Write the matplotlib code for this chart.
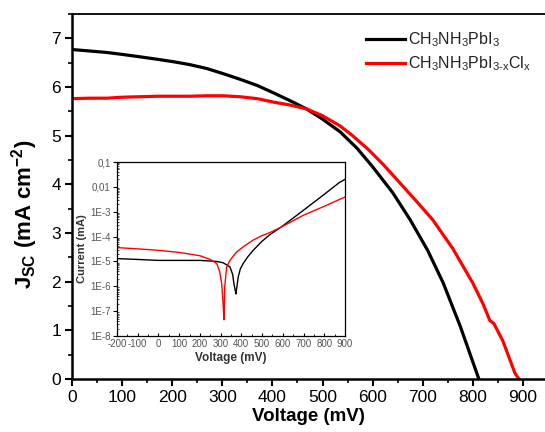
import matplotlib
matplotlib.use("Agg")
import matplotlib.pyplot as plt
from matplotlib.ticker import MultipleLocator, FixedLocator, LogLocator, NullFormatter

plt.rcParams['font.family'] = ['Liberation Sans', 'DejaVu Sans']
plt.rcParams['mathtext.fontset'] = 'custom'
plt.rcParams['mathtext.rm'] = 'Liberation Sans'
plt.rcParams['mathtext.bf'] = 'Liberation Sans:bold'
plt.rcParams['mathtext.it'] = 'Liberation Sans'
plt.rcParams['axes.unicode_minus'] = False

# Main J-V data
v_black = [0, 35, 69, 100, 136, 170, 202, 235, 269, 300, 335, 370, 402, 435, 468, 500,
           535, 569, 600, 640, 675, 710, 741, 775, 812]
j_black = [6.77, 6.74, 6.71, 6.67, 6.62, 6.57, 6.52, 6.46, 6.38, 6.28, 6.16, 6.03, 5.88,
           5.72, 5.55, 5.34, 5.08, 4.74, 4.36, 3.83, 3.27, 2.64, 1.97, 1.08, 0.0]
v_red = [0, 35, 69, 100, 136, 170, 202, 235, 269, 300, 335, 370, 402, 435, 468, 500,
         535, 560, 591, 620, 650, 685, 720, 760, 800, 820, 834, 842, 860, 884, 892]
j_red = [5.76, 5.77, 5.77, 5.79, 5.80, 5.81, 5.81, 5.81, 5.82, 5.82, 5.80, 5.76, 5.69,
         5.63, 5.55, 5.41, 5.20, 5.00, 4.72, 4.42, 4.08, 3.68, 3.27, 2.68, 1.97, 1.55,
         1.20, 1.14, 0.78, 0.12, 0.0]

# Inset dark I-V data
vi_red = [-200, -100, 0, 100, 200, 250, 281, 295, 305, 312, 316, 320, 329, 345, 377,
          420, 457, 500, 538, 600, 699, 800, 873, 900]
ii_red = [3.6e-5, 3.2e-5, 2.8e-5, 2.3e-5, 1.7e-5, 1.2e-5, 8.3e-6, 4e-6, 1.3e-6, 2e-7,
          4.5e-8, 1e-6, 6e-6, 1.1e-5, 2.4e-5, 4.5e-5, 7.2e-5, 1.1e-4, 1.45e-4, 2.6e-4,
          7.2e-4, 1.65e-3, 3.1e-3, 3.9e-3]
vi_black = [-200, -100, 0, 100, 200, 280, 313, 345, 358, 364, 370, 374, 378, 385, 395,
            409, 430, 457, 500, 538, 600, 700, 800, 873, 900]
ii_black = [1.3e-5, 1.2e-5, 1.1e-5, 1.1e-5, 1.1e-5, 1.0e-5, 8.8e-6, 6e-6, 3e-6, 1.3e-6,
            7e-7, 4.9e-7, 9e-7, 2.4e-6, 5e-6, 8.3e-6, 1.5e-5, 2.8e-5, 6.5e-5, 1.2e-4,
            2.7e-4, 1.15e-3, 5.0e-3, 1.5e-2, 2.0e-2]

labels = [r'CH$_3$NH$_3$PbI$_3$', r'CH$_3$NH$_3$PbI$_{3\text{-}x}$Cl$_x$']
inset_ytick_vals = [1e-8, 1e-7, 1e-6, 1e-5, 1e-4, 1e-3, 1e-2, 1e-1]
inset_ytick_labels = ['1E-8', '1E-7', '1E-6', '1E-5', '1E-4', '1E-3', '0,01', '0,1']

fig = plt.figure(figsize=(5.45, 4.32), dpi=100)
ax = fig.add_axes([72/545, 53/432, 473/545, 365/432])
ax.plot(v_black, j_black, color='black', lw=2.3, label=labels[0])
ax.plot(v_red, j_red, color='#ff0000', lw=2.3, label=labels[1])
ax.set_xlim(0, 944)
ax.set_ylim(0, 7.5)
ax.xaxis.set_major_locator(MultipleLocator(100))
ax.xaxis.set_minor_locator(MultipleLocator(50))
ax.yaxis.set_major_locator(MultipleLocator(1))
ax.yaxis.set_minor_locator(MultipleLocator(0.5))
ax.tick_params(which='major', direction='out', length=5, width=1.5, labelsize=12.5, pad=3)
ax.tick_params(which='minor', direction='out', length=3, width=1.2)
ax.spines['right'].set_visible(False)
ax.spines['left'].set_linewidth(1.8)
ax.spines['bottom'].set_linewidth(1.8)
ax.spines['top'].set_linewidth(1.3)
ax.set_xlabel('Voltage (mV)', fontsize=13.5, fontweight='bold', labelpad=2)
ax.set_ylabel(r'J$_\mathbf{SC}$ (mA cm$^\mathbf{-2}$)', fontsize=16,
              fontweight='bold')
ax.yaxis.set_label_coords(-0.068, 0.45)
leg = ax.legend(loc='upper right', bbox_to_anchor=(1.0, 0.995), frameon=False,
                fontsize=11.5, handlelength=2.4, handletextpad=0.2, labelspacing=0.35)
for t in leg.get_texts():
    t.set_color('#222222')

# Inset
ins = fig.add_axes([117/545, 96/432, 228/545, 174/432])
ins.plot(vi_black, ii_black, color='black', lw=1.0)
ins.plot(vi_red, ii_red, color='#ff0000', lw=1.0)
ins.set_yscale('log')
ins.set_xlim(-200, 900)
ins.set_ylim(1e-8, 1e-1)
ins.yaxis.set_major_locator(FixedLocator(inset_ytick_vals))
ins.set_yticklabels(inset_ytick_labels)
ins.yaxis.set_minor_locator(LogLocator(base=10, subs=range(2, 10), numticks=20))
ins.yaxis.set_minor_formatter(NullFormatter())
ins.xaxis.set_major_locator(MultipleLocator(100))
ins.xaxis.set_minor_locator(MultipleLocator(50))
ins.tick_params(axis='y', which='major', direction='out', length=3, width=0.8,
                labelsize=7, labelcolor='#555555', pad=1.5)
ins.tick_params(axis='y', which='minor', direction='in', length=1.5, width=0.5)
ins.tick_params(axis='x', which='major', direction='in', length=2.5, width=0.8,
                labelsize=7, labelcolor='#555555', pad=2)
ins.tick_params(axis='x', which='minor', direction='in', length=1.5, width=0.6)
for s in ins.spines.values():
    s.set_linewidth(0.9)
ins.set_xlabel('Voltage (mV)', fontsize=8.5, fontweight='bold', color='#333333', labelpad=2)
ins.set_ylabel('Current (mA)', fontsize=8, fontweight='bold', color='#333333', labelpad=2)

fig.savefig('out.png', dpi=100)
